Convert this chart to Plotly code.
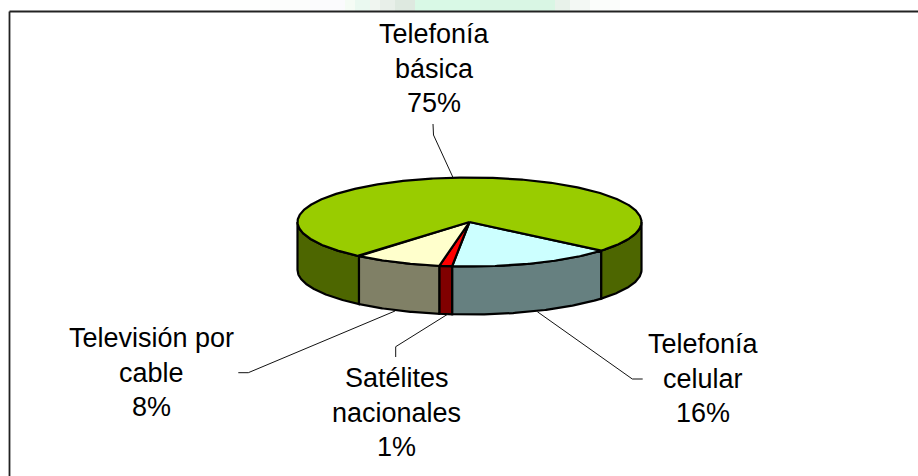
import numpy as np
import plotly.graph_objects as go

# Data
categories = ["Telefonía celular", "Satélites nacionales", "Televisión por cable", "Telefonía básica"]
label_lines = [["Telefonía", "celular"], ["Satélites", "nacionales"], ["Televisión por", "cable"], ["Telefonía", "básica"]]
values = [15.5, 1.2, 8.3, 75.0]

# Styling
top_colors = ["#CCFFFF", "#FF0000", "#FFFFCC", "#99CC00"]
side_colors = ["#668080", "#800000", "#808066", "#4D6600"]
CX, CY, RX, RY, DEPTH = 469.5, 222.0, 172.0, 44.5, 48.0
START_DEG = 40.0
FONT = "Liberation Sans, Arial, sans-serif"
FONT_SIZE = 27
LINE_STEP = 34.5
label_pos = [(703, 354), (396.5, 388), (151.5, 348), (434, 44)]  # centre x, first baseline y
leaders = [
    [(537.3, 311.7), (632.3, 379), (642.7, 379)],
    [(448, 314), (395.7, 346.7), (395.7, 357)],
    [(395, 311), (248.3, 372.7), (238.3, 372.7)],
    [(453, 177.5), (433.5, 135), (433, 124)],
]
bg_bands = [
    (230, 270, "#FEFFFE"), (270, 310, "#FCFDFC"), (310, 345, "#FBFBFD"), (345, 370, "#F8FCF8"),
    (345, 355, "#F5FCF5"), (355, 370, "#EAF9F0"), (370, 380, "#F0F5F0"), (380, 395, "#E8EFE9"),
    (395, 415, "#DEE9E0"), (415, 480, "#D9F9E6"), (480, 555, "#D9F6E4"), (555, 570, "#E8F2EA"),
    (570, 590, "#F3F8F4"), (590, 620, "#FBFDFB"),
]

def ell(theta_deg, dy=0.0):
    t = np.radians(theta_deg)
    return CX + RX * np.cos(t), CY + RY * np.sin(t) + dy

fig = go.Figure()
edges = START_DEG + np.concatenate([[0], np.cumsum(values)]) * 3.6

def add_poly(x, y, color):
    fig.add_trace(go.Scatter(x=x, y=y, mode="lines", fill="toself", fillcolor=color,
                             line=dict(color="black", width=2.2), hoverinfo="skip", showlegend=False))

# side walls: only the front half of the rim (0..180 deg) is visible
for i in range(len(values)):
    for shift in (0, -360):
        a = max(edges[i] + shift, 0.0)
        b = min(edges[i + 1] + shift, 180.0)
        if b > a:
            th = np.linspace(a, b, max(int(b - a) * 2, 4))
            x1, y1 = ell(th)
            x2, y2 = ell(th[::-1], DEPTH)
            add_poly(np.r_[x1, x2, x1[0]], np.r_[y1, y2, y1[0]], side_colors[i])

# top faces
for i in range(len(values)):
    th = np.linspace(edges[i], edges[i + 1], max(int(edges[i + 1] - edges[i]) * 2, 4))
    x, y = ell(th)
    add_poly(np.r_[CX, x, CX], np.r_[CY, y, CY], top_colors[i])

shapes = []
for x0, x1, c in bg_bands:
    shapes.append(dict(type="rect", xref="x", yref="y", x0=x0, x1=x1, y0=0, y1=11, layer="below",
                       fillcolor=c, line=dict(width=0)))
# chart frame (runs off the right and bottom of the picture)
shapes.append(dict(type="line", xref="x", yref="y", x0=9.5, x1=918, y0=11.5, y1=11.5, line=dict(color="#222222", width=1.8)))
shapes.append(dict(type="line", xref="x", yref="y", x0=9.5, x1=9.5, y0=11.5, y1=476, line=dict(color="#222222", width=1.8)))
for pts in leaders:
    path = "M " + " L ".join(f"{px},{py}" for px, py in pts)
    shapes.append(dict(type="path", xref="x", yref="y", path=path, line=dict(color="#111111", width=1)))

annotations = []
for lines, v, (lx, ly) in zip(label_lines, values, label_pos):
    for k, text in enumerate(lines + [f"{round(v)}%"]):
        annotations.append(dict(x=lx, y=ly + k * LINE_STEP, xref="x", yref="y", text=text, showarrow=False,
                                xanchor="center", yanchor="bottom", yshift=-6, borderpad=0,
                                font=dict(family=FONT, size=FONT_SIZE, color="black")))

fig.update_layout(
    width=918, height=476, margin=dict(l=0, r=0, t=0, b=0), autosize=False,
    paper_bgcolor="white", plot_bgcolor="white", showlegend=False,
    xaxis=dict(range=[0, 918], visible=False, fixedrange=True),
    yaxis=dict(range=[476, 0], visible=False, fixedrange=True),
    shapes=shapes, annotations=annotations,
)
fig.write_html("out.html", config={"displayModeBar": False},
               post_script="document.body.style.margin='0';document.documentElement.style.overflow='hidden';")
